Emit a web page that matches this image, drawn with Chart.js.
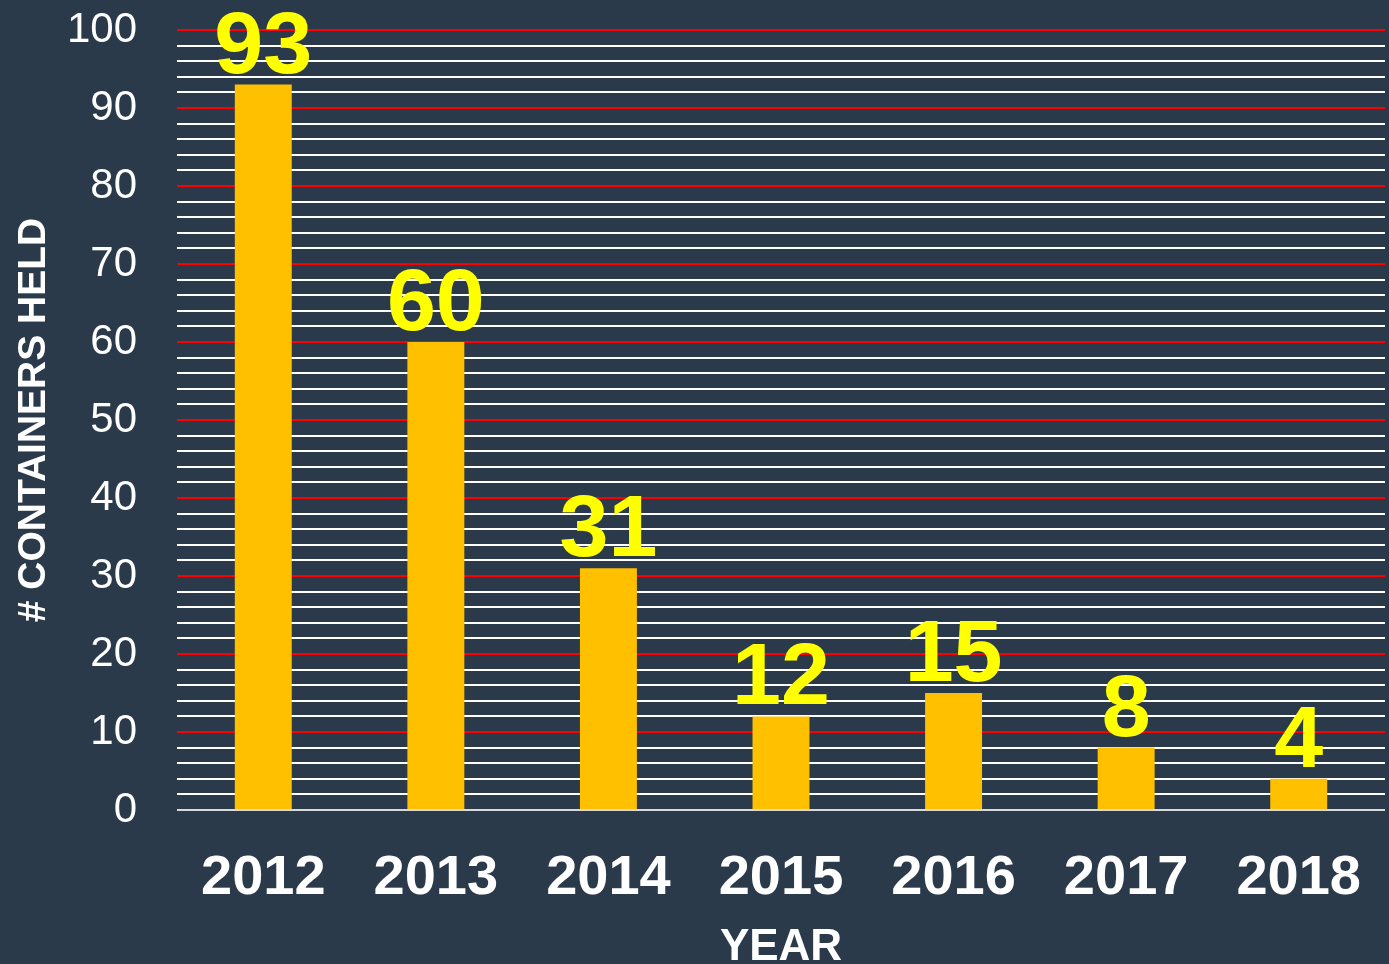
<!DOCTYPE html>
<html>
<head>
<meta charset="utf-8">
<script src="https://cdn.jsdelivr.net/npm/chart.js@4/dist/chart.umd.min.js"></script>
<style>
html,body{margin:0;padding:0;background:#2b3a4a;overflow:hidden;}
#wrap{width:1389px;height:964px;position:relative;}
</style>
</head>
<body>
<div id="wrap"><canvas id="c"></canvas></div>
<script>
const years = ['2012','2013','2014','2015','2016','2017','2018'];
const containersHeld = [93, 60, 31, 12, 15, 8, 4];
const yMin = 0, yMax = 100, yStep = 2, yLabelStep = 10;
const yTitle = '# CONTAINERS HELD';
const xTitle = 'YEAR';

const FONT = '"Liberation Sans", Arial, sans-serif';

const valueLabels = {
  id: 'valueLabels',
  afterDatasetsDraw(chart) {
    const ctx = chart.ctx;
    const meta = chart.getDatasetMeta(0);
    ctx.save();
    ctx.fillStyle = '#ffff00';
    ctx.font = 'bold 88px ' + FONT;
    ctx.textAlign = 'center';
    ctx.textBaseline = 'alphabetic';
    meta.data.forEach((bar, i) => {
      ctx.fillText(String(chart.data.datasets[0].data[i]), bar.x, bar.y - 12);
    });
    ctx.restore();
  }
};

new Chart(document.getElementById('c'), {
  type: 'bar',
  data: {
    labels: years,
    datasets: [{
      data: containersHeld,
      backgroundColor: '#ffc000',
      borderWidth: 0,
      barPercentage: 0.33,
      categoryPercentage: 1
    }]
  },
  options: {
    responsive: true,
    maintainAspectRatio: false,
    animation: false,
    layout: { padding: { top: 30, right: 4, left: 0, bottom: 0 } },
    plugins: { legend: { display: false }, tooltip: { enabled: false } },
    scales: {
      x: {
        grid: { display: false, drawTicks: false },
        border: { display: false },
        ticks: { color: '#ffffff', font: { family: FONT, size: 56, weight: 'bold' }, padding: 35, maxRotation: 0, autoSkip: false },
        title: { display: true, text: xTitle, color: '#ffffff', font: { family: FONT, size: 44, weight: 'bold' }, padding: { top: 0, bottom: -10 } },
        afterFit(s) { s.height = 154; s.paddingLeft = 0; s.paddingRight = 0; }
      },
      y: {
        min: yMin, max: yMax,
        grid: {
          drawTicks: false,
          lineWidth: 2,
          color(c) {
            const v = c.tick.value;
            if (v === 0) return '#d9d9d9';
            return v % yLabelStep === 0 ? '#ff0000' : '#ffffff';
          }
        },
        border: { display: false },
        ticks: {
          stepSize: yStep,
          autoSkip: false,
          padding: 40,
          color: '#ffffff',
          font: { family: FONT, size: 42 },
          callback(v) { return v % yLabelStep === 0 ? String(v) : ''; }
        },
        title: { display: true, text: yTitle, color: '#ffffff', font: { family: FONT, size: 39, weight: 'bold' }, padding: { top: 11, bottom: 0 }, align: 'center' },
        afterFit(s) { s.width = 177; s.paddingTop = 0; s.paddingBottom = 0; }
      }
    }
  },
  plugins: [valueLabels]
});
</script>
</body>
</html>
